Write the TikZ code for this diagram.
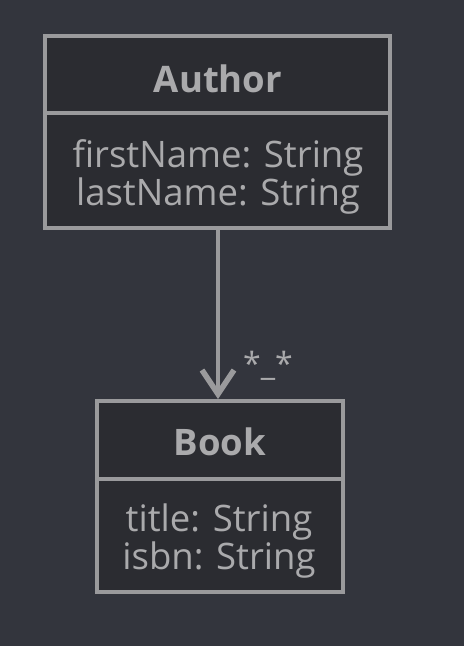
\documentclass[tikz,border=0pt]{standalone}
\usepackage{fontspec}
\setmainfont{Open Sans}
\usetikzlibrary{arrows.meta}
\definecolor{bg}{HTML}{33353D}
\definecolor{boxfill}{HTML}{2B2C31}
\definecolor{stroke}{HTML}{9A9A9C}
\definecolor{txt}{HTML}{AAAAAC}
\begin{document}
\begin{tikzpicture}[x=1pt,y=-1pt,
  part/.style={draw=stroke,fill=boxfill,line width=4pt,inner sep=0pt},
  title/.style={text=txt,font=\fontsize{36.5}{40}\selectfont\bfseries},
  attr/.style={text=txt,font=\fontsize{36.5}{36}\selectfont,align=center},
  assoc/.style={draw=stroke,line width=4pt,-{Straight Barb[length=24pt,width=32pt,line width=5.5pt]}}]
\fill[bg] (0,0) rectangle (464,646);
\useasboundingbox (0,0) rectangle (464,646);
% Author
\draw[part] (45,36) rectangle (390,113);
\draw[part] (45,113) rectangle (390,228);
\node[title] (authorT) at (218,79) {Author};
\node[attr] (authorA) at (218,177) {firstName: String\\lastName: String};
\coordinate (authorB) at (218,228);
% Book
\draw[part] (97,401) rectangle (343,479);
\draw[part] (97,479) rectangle (343,592);
\node[title] (bookT) at (220,442) {Book};
\node[attr] (bookA) at (219,541) {title: String\\isbn: String};
\coordinate (bookTop) at (218,399);
% association
\draw[assoc] (authorB) -- (bookTop);
\node[text=txt,font=\fontsize{32}{32}\selectfont] (mult) at (268,366) {*\_*};
\end{tikzpicture}
\end{document}
